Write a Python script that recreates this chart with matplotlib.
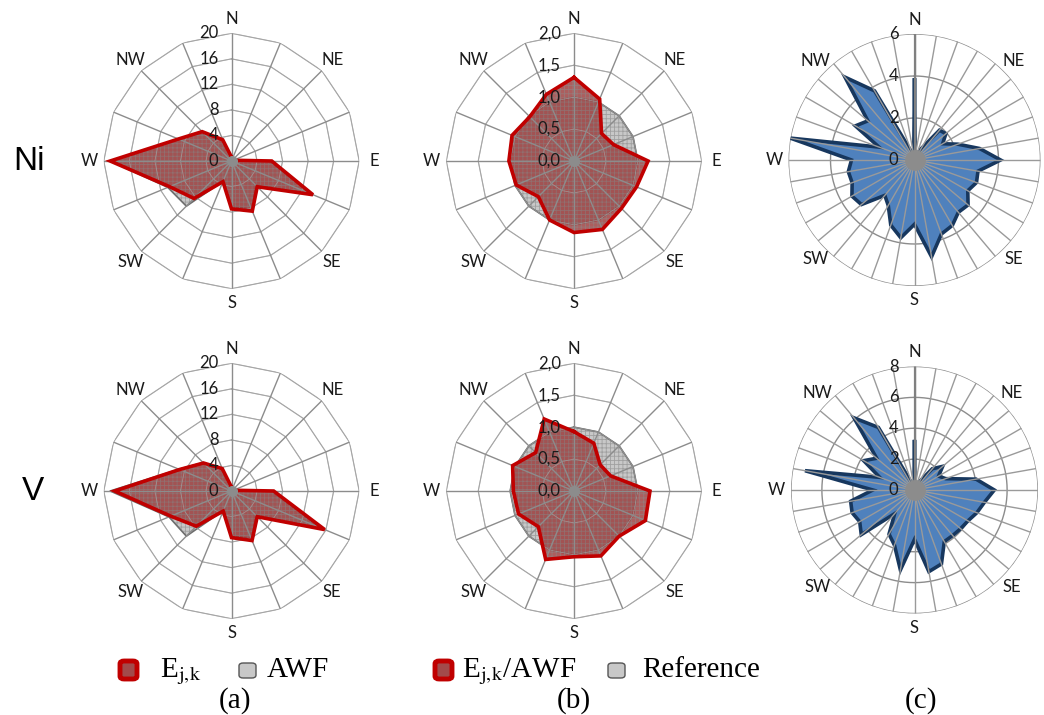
import numpy as np
import matplotlib
matplotlib.use('Agg')
import matplotlib.pyplot as plt
from matplotlib import transforms
from matplotlib.patches import FancyBboxPatch

plt.rcParams['mathtext.fontset'] = 'stix'
plt.rcParams['hatch.linewidth'] = 0.6

# 16 sector wind directions, clockwise from north
dirs16 = ['N', 'NNE', 'NE', 'ENE', 'E', 'ESE', 'SE', 'SSE',
          'S', 'SSW', 'SW', 'WSW', 'W', 'WNW', 'NW', 'NNW']
dir_labels = ['N', 'NE', 'E', 'SE', 'S', 'SW', 'W', 'NW']

# (a) emission E_jk and AWF
ni_E   = [0.6, 0.3, 0.2, 0.3, 6.3, 13.8, 5.7, 8.5, 7.5, 3.5, 8.3, 10.5, 19.0, 9.0, 6.5, 3.6]
ni_AWF = [0.5, 0.3, 0.2, 0.3, 6.0, 13.3, 5.4, 8.2, 7.1, 3.4, 10.0, 10.8, 19.0, 9.0, 6.4, 3.4]
v_E    = [0.6, 0.3, 0.2, 0.3, 6.6, 15.8, 5.7, 8.4, 7.3, 3.4, 7.8, 10.3, 18.3, 8.8, 6.2, 3.8]
v_AWF  = [0.5, 0.3, 0.2, 0.3, 6.2, 15.2, 5.4, 8.1, 7.0, 3.3, 10.0, 10.6, 19.0, 8.9, 6.3, 3.6]

# (b) E_jk/AWF and reference
ni_ratio = [1.31, 1.05, 0.61, 0.67, 1.16, 1.06, 1.05, 1.16, 1.12, 1.0, 0.79, 0.98, 1.02, 1.05, 0.98, 1.13]
v_ratio  = [0.93, 0.81, 0.58, 0.62, 1.19, 1.21, 1.0, 1.10, 1.03, 1.16, 0.79, 0.94, 0.95, 1.04, 0.85, 1.22]
reference = [1.0] * 16

# (c) 36 sectors of 10 deg
ni_36 = [3.9, 0.2, 0.3, 0.6, 1.85, 1.95, 1.55, 2.2, 3.15, 4.1, 3.07, 3.14,
         2.93, 3.33, 3.25, 3.6, 3.75, 4.68, 3.06, 3.76, 3.3, 2.5, 2.2, 3.3,
         3.44, 3.16, 3.2, 3.0, 6.0, 1.8, 3.25, 2.9, 5.15, 3.8, 0.4, 0.2]
v_36  = [3.25, 0.2, 0.3, 0.6, 1.8, 2.38, 1.8, 2.15, 4.05, 5.17, 4.6, 4.3,
         4.0, 3.9, 3.85, 3.86, 5.1, 5.37, 3.2, 5.26, 3.8, 3.3, 2.0, 4.5,
         4.1, 4.3, 4.2, 2.7, 7.2, 2.4, 3.8, 3.2, 6.1, 4.68, 0.4, 0.2]

ticks_a = [0, 4, 8, 12, 16, 20]
ticks_b = [0.0, 0.5, 1.0, 1.5, 2.0]
ticks_b_lbl = ['0,0', '0,5', '1,0', '1,5', '2,0']
ticks_c_ni = [0, 2, 4, 6]
ticks_c_v = [0, 2, 4, 6, 8]

W, H = 1044, 715
fig = plt.figure(figsize=(W / 100, H / 100), dpi=100)
LBL_FONT = 'Lato'
TXT_COL = '#1a1a1a'


def make_ax(cx, cy, R, rmax):
    ax = fig.add_axes([(cx - R) / W, (H - cy - R) / H, 2 * R / W, 2 * R / H],
                      projection='polar')
    ax.set_theta_zero_location('N')
    ax.set_theta_direction(-1)
    ax.set_ylim(0, rmax)
    ax.set_axis_off()
    return ax


def closed(th, r):
    return np.append(th, th[0]), np.append(r, r[0])


def radial_labels(ax, vals, lbls, dx):
    tr = transforms.offset_copy(ax.transData, fig=fig, x=dx, y=0, units='dots')
    for v, s in zip(vals, lbls):
        ax.text(0, v, s, transform=tr, ha='right', va='center', fontsize=12,
                family=LBL_FONT, color=TXT_COL, zorder=10)


def dir_text(ax, rmax, skip=()):
    th = np.deg2rad(np.arange(0, 360, 45))
    for t, s in zip(th, dir_labels):
        if s in skip:
            continue  # cut off at the right edge of the original
        ax.text(t, rmax * 1.115, s, ha='center', va='center', fontsize=12,
                family=LBL_FONT, color=TXT_COL)


def hatched_fill(ax, th, r, face, hatch_col, alpha, z):
    tt, rr = closed(th, r)
    ax.fill(tt, rr, facecolor=face, edgecolor='none', alpha=alpha, zorder=z)
    ax.fill(tt, rr, facecolor='none', edgecolor=hatch_col, hatch='++++',
            linewidth=0, alpha=0.55, zorder=z + 0.1)


def radar16(ax, rmax, ticks, tick_lbls, s_red, s_gray):
    th = np.deg2rad(np.arange(16) * 22.5)
    # polygon grid
    for v in ticks[1:]:
        tt, rr = closed(th, np.full(16, v))
        ax.plot(tt, rr, color='#a6a6a6', lw=0.8, zorder=1)
    # gray series below, red series on top
    hatched_fill(ax, th, s_gray, '#c8c8c8', '#7f7f7f', 1.0, 2)
    tt, rr = closed(th, s_gray)
    ax.plot(tt, rr, color='#6e6e6e', lw=1.2, zorder=2.5)
    hatched_fill(ax, th, s_red, '#9a3a3a', '#8c8c8c', 0.82, 3)
    # spokes and inner rings visible through the fill
    for t in th:
        ax.plot([t, t], [0, rmax], color='#8c8c8c', lw=1.0, zorder=3.5)
    for v in ticks[1:]:
        tt, rr = closed(th, np.full(16, v))
        ax.plot(tt, rr, color='#a6a6a6', lw=0.6, zorder=3.4, alpha=0.7)
    tt, rr = closed(th, s_red)
    ax.plot(tt, rr, color='#c00000', lw=2.6, zorder=4, solid_joinstyle='miter')
    ax.plot([0], [0], 'o', ms=7, color='#8c8c8c', zorder=5)
    radial_labels(ax, ticks, tick_lbls, -13)
    dir_text(ax, rmax)


def radar36(ax, rmax, ticks, series):
    th = np.deg2rad(np.arange(36) * 10)
    circ = np.linspace(0, 2 * np.pi, 361)
    for v in ticks[1:]:
        ax.plot(circ, np.full(361, v), color='#8c8c8c', lw=1.0, zorder=1)
    tt, rr = closed(th, series)
    ax.fill(tt, rr, facecolor='#4f81bd', edgecolor='#17375e', lw=2.6,
            joinstyle='miter', zorder=2)
    for t in th:
        ax.plot([t, t], [0, rmax], color='#9a9a9a', lw=1.0, zorder=3)
    ax.plot([0, 0], [0, rmax], color='#808080', lw=1.6, zorder=3.1)
    ax.plot([0], [0], 'o', ms=14, color='#8c8c8c', zorder=5)
    radial_labels(ax, ticks, [str(v) for v in ticks], -16)
    dir_text(ax, rmax, skip=('E',))


ax = make_ax(231.5, 161, 127.7, 20)
radar16(ax, 20, ticks_a, [str(v) for v in ticks_a], ni_E, ni_AWF)
ax = make_ax(574, 161, 127.7, 2.0)
radar16(ax, 2.0, ticks_b, ticks_b_lbl, ni_ratio, reference)
ax = make_ax(914.5, 160, 126, 6)
radar36(ax, 6, ticks_c_ni, ni_36)

ax = make_ax(231.5, 491, 127.7, 20)
radar16(ax, 20, ticks_a, [str(v) for v in ticks_a], v_E, v_AWF)
ax = make_ax(574, 491, 127.7, 2.0)
radar16(ax, 2.0, ticks_b, ticks_b_lbl, v_ratio, reference)
ax = make_ax(914.5, 490, 123.5, 8)
radar36(ax, 8, ticks_c_v, v_36)

# row labels
fig.text(29 / W, 1 - 161 / H, 'Ni', fontsize=24, family='Liberation Sans',
         ha='center', va='center')
fig.text(33 / W, 1 - 491 / H, 'V', fontsize=24, family='Liberation Sans',
         ha='center', va='center')


# legend and panel captions
def legend_box(x, y, w, h, face, edge, lw):
    p = FancyBboxPatch((x / W, 1 - (y + h) / H), w / W, h / H,
                       boxstyle='round,pad=0,rounding_size=0.004',
                       transform=fig.transFigure, facecolor=face,
                       edgecolor=edge, lw=lw)
    fig.patches.append(p)


serif = 'Liberation Serif'
FS = 21
BASE = 677
legend_box(120, 661, 17, 18, '#a24b4b', '#c00000', 3.5)
fig.text(160 / W, 1 - BASE / H, r'E$_{\mathrm{j{,}k}}$', fontsize=FS, family=serif,
         va='baseline')
legend_box(239, 663, 17, 15, '#c8c8c8', '#555555', 1)
fig.text(267 / W, 1 - BASE / H, 'AWF', fontsize=FS, family=serif, va='baseline')
legend_box(435, 661, 17, 18, '#a24b4b', '#c00000', 3.5)
fig.text(462 / W, 1 - BASE / H, r'E$_{\mathrm{j{,}k}}$/AWF', fontsize=FS,
         family=serif, va='baseline')
legend_box(608, 663, 17, 15, '#c8c8c8', '#555555', 1)
fig.text(642 / W, 1 - BASE / H, 'Reference', fontsize=FS, family=serif,
         va='baseline')

for x, s in [(235, '(a)'), (574, '(b)'), (921, '(c)')]:
    fig.text(x / W, 1 - 708 / H, s, fontsize=FS, family=serif,
             ha='center', va='baseline')

fig.savefig('out.png', dpi=100)
